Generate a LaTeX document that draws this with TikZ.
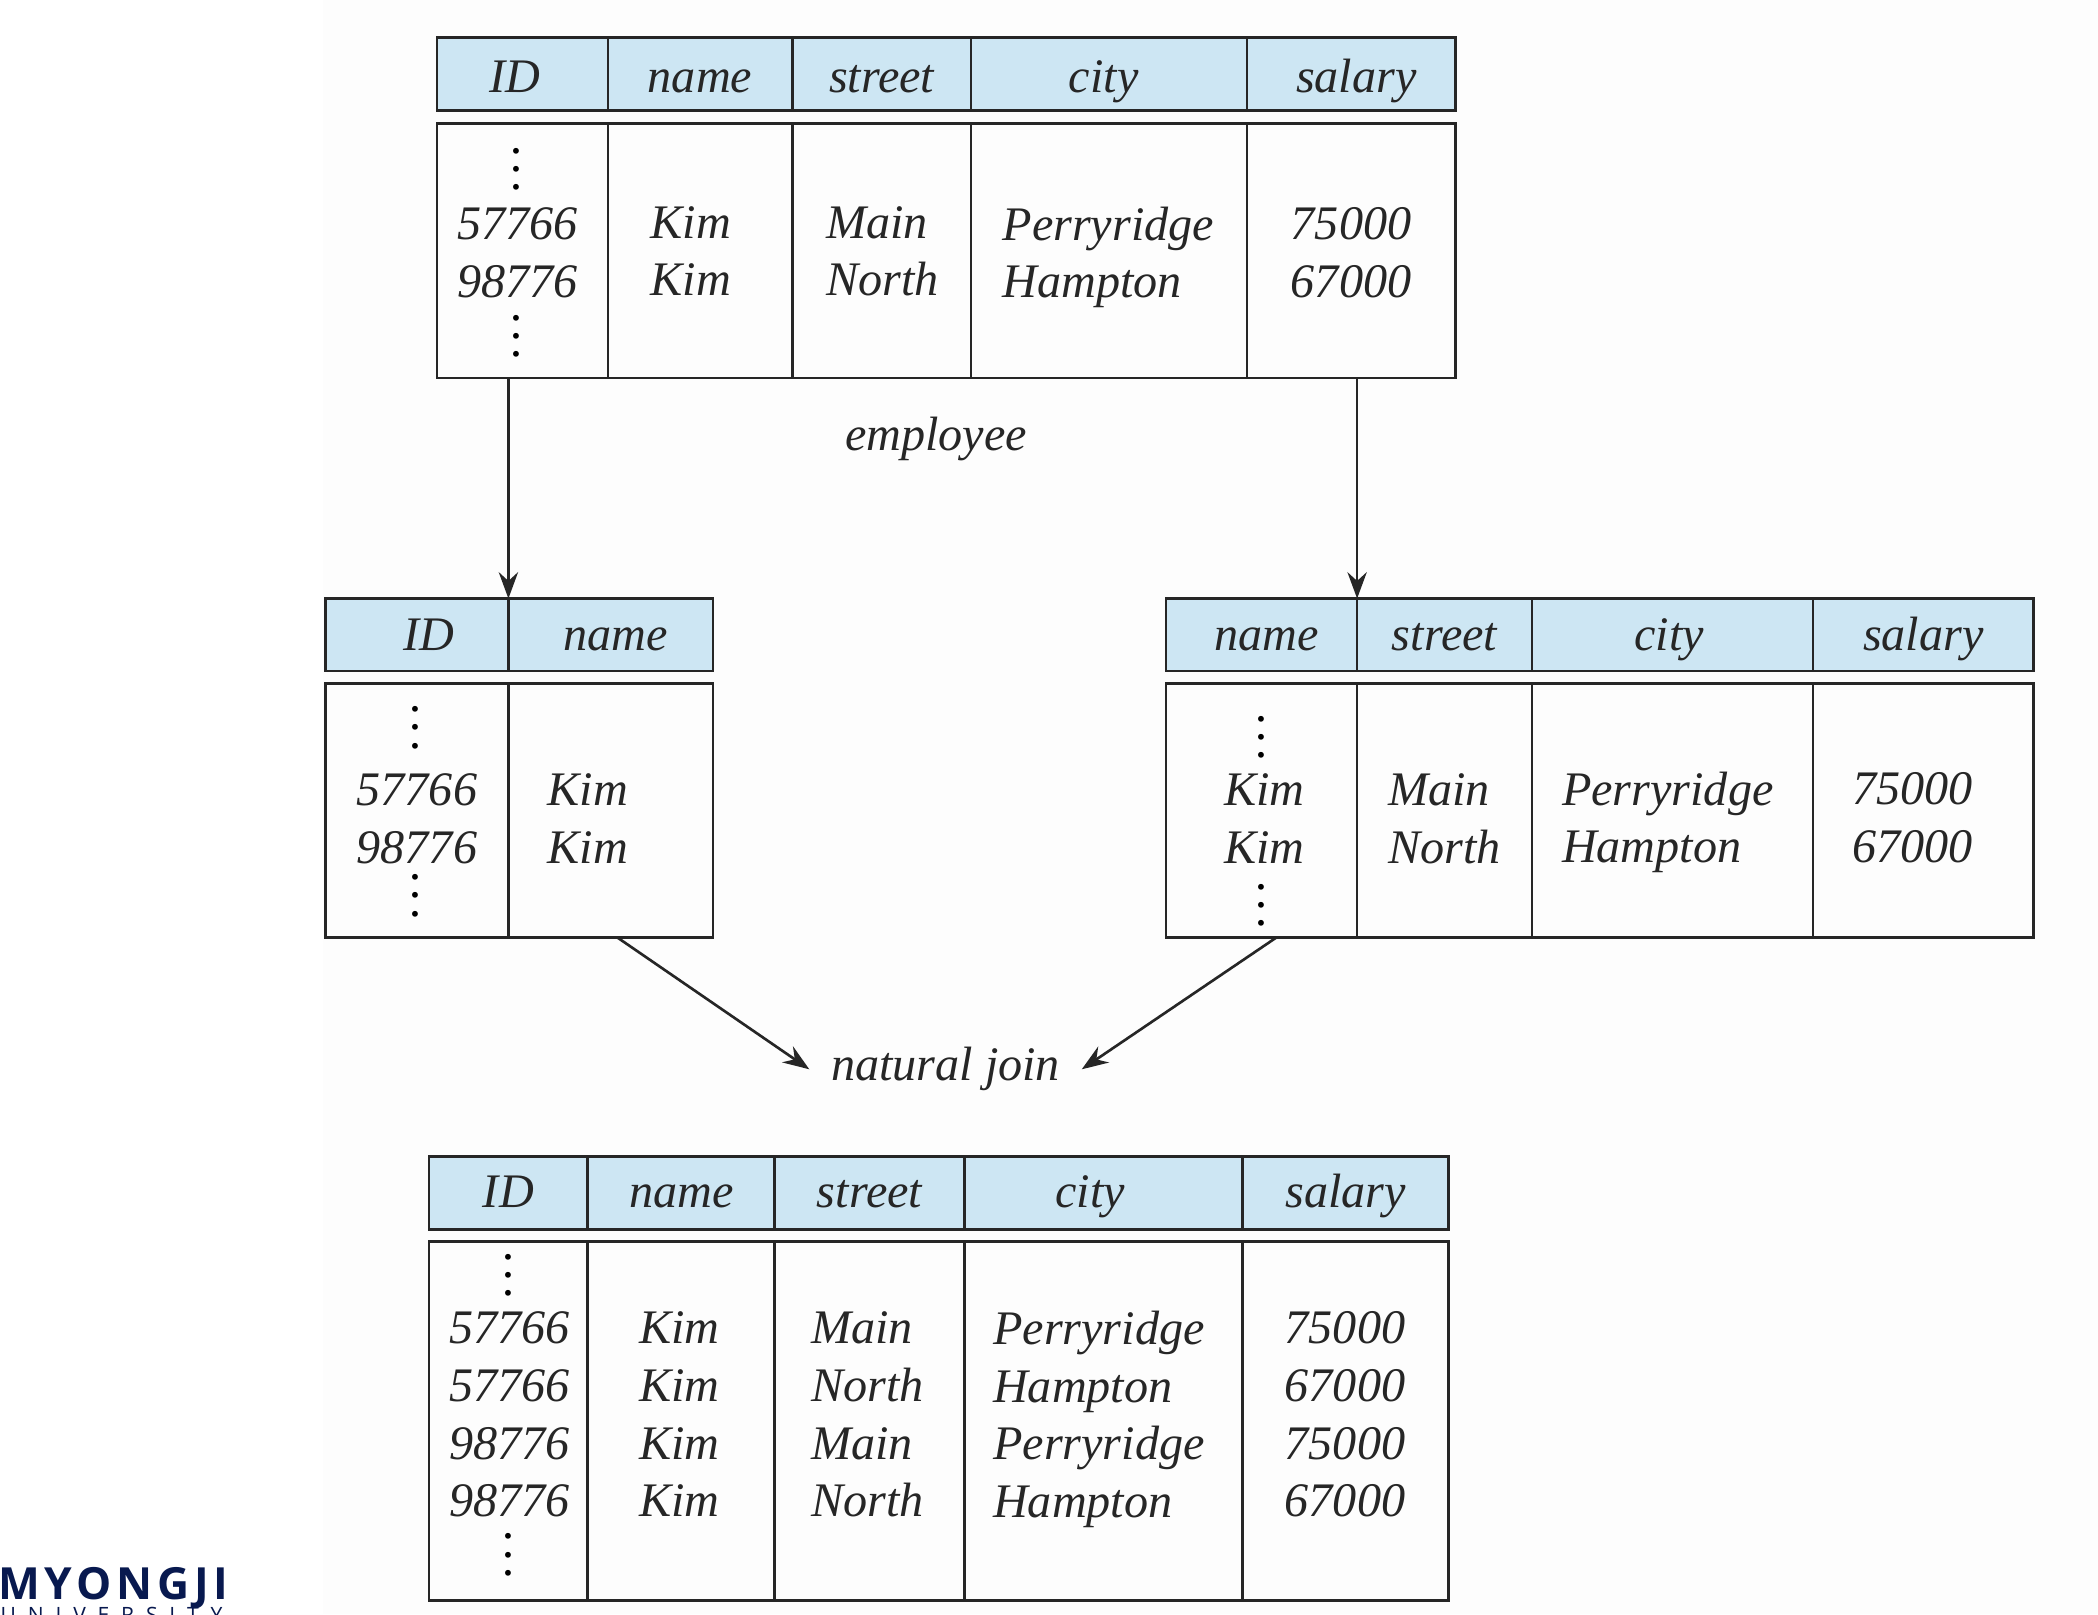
\documentclass[tikz,border=0pt]{standalone}
\usepackage{fontspec}
\setmainfont{Liberation Serif}
\newfontfamily\logofont[LetterSpace=11]{Open Sans}
\newfontfamily\logofontwide[LetterSpace=56]{Open Sans}
\usetikzlibrary{arrows.meta, positioning}
\definecolor{headblue}{HTML}{CDE6F3}
\definecolor{inkgray}{HTML}{262626}
\definecolor{logonavy}{HTML}{08194F}
\newcommand{\rowdots}{\vbox{\baselineskip=5.2pt\lineskiplimit=0pt\hbox{.}\hbox{.}\hbox{.}}}
\tikzset{
	colw/.style={minimum width=#1*0.01345cm},
	headcell/.style={draw=inkgray, fill=headblue, line width=0.75pt, outer sep=0pt, inner sep=0pt, minimum height=54*0.01345cm, text height=11.9pt, text depth=3pt, font=\fontsize{13.7}{16.4}\selectfont\itshape, text=inkgray},
	headtop/.style={headcell, text height=13.8pt},
	headlow/.style={headcell, text height=11.2pt},
	bodycell/.style={draw=inkgray, line width=0.75pt, outer sep=0pt, inner sep=0pt},
	rowtxt/.style={align=left, inner sep=0pt, text=inkgray, font=\fontsize{13.7}{16.4}\selectfont\itshape, execute at begin node=\strut, execute at end node=\strut},
	dotcol/.style={inner sep=0pt, text=black, font=\fontsize{14}{16.4}\selectfont\itshape},
	caption/.style={inner sep=0pt, text=inkgray, font=\fontsize{13.7}{16.4}\selectfont\itshape},
	flow/.style={-{Stealth[length=7.5pt, width=5.5pt, inset=2.5pt]}, draw=inkgray, line width=0.75pt}
}
\begin{document}
\begin{tikzpicture}[x=0.01345cm, y=-0.01345cm]
	\useasboundingbox (0,0) rectangle (1559.85,1200);
	\fill[white] (0,0) rectangle (1559.85,1200);
	\fill[black!0.7] (240,0) rectangle (1559.85,1200);
	
	% employee
	\node[headtop, colw=127, anchor=north west] (t1hid) at (325,28) {\hspace*{-4.6pt}ID};
	\node[headtop, colw=137, right=0pt of t1hid] (t1hname) {name};
	\node[headtop, colw=133, right=0pt of t1hname] (t1hstreet) {street};
	\node[headtop, colw=205, right=0pt of t1hstreet] (t1hcity) {\hspace*{-3pt}city};
	\node[headtop, colw=155, right=0pt of t1hcity] (t1hsalary) {\hspace*{3pt}salary};
	\node[bodycell, colw=127, minimum height=189*0.01345cm, anchor=north west] (t1bid) at (325,92) {};
	\node[bodycell, colw=137, minimum height=189*0.01345cm, right=0pt of t1bid] (t1bname) {};
	\node[bodycell, colw=133, minimum height=189*0.01345cm, right=0pt of t1bname] (t1bstreet) {};
	\node[bodycell, colw=205, minimum height=189*0.01345cm, right=0pt of t1bstreet] (t1bcity) {};
	\node[bodycell, colw=155, minimum height=189*0.01345cm, right=0pt of t1bcity] (t1bsalary) {};
	\node[dotcol] (t1dotsa) at (385,126) {\rowdots};
	\node[rowtxt] (t1ids) at (385,194) {57766\\98776};
	\node[dotcol] (t1dotsb) at (385,250) {\rowdots};
	\node[rowtxt] (t1names) at (513.5,193) {Kim\\Kim};
	\node[rowtxt] (t1streets) at (656,193) {Main\\North};
	\node[rowtxt] (t1cities) at (824,194) {Perryridge\\Hampton};
	\node[rowtxt] (t1salaries) at (1004.5,194) {75000\\67000};
	\node[caption] (empname) at (696,326) {employee};
	
	% left projection
	\node[headcell, colw=136, anchor=north west] (t2hid) at (242,445) {\hspace*{6.9pt}ID};
	\node[headcell, colw=152, right=0pt of t2hid] (t2hname) {\hspace*{3pt}name};
	\node[bodycell, colw=136, minimum height=189*0.01345cm, anchor=north west] (t2bid) at (242,508) {};
	\node[bodycell, colw=152, minimum height=189*0.01345cm, right=0pt of t2bid] (t2bname) {};
	\node[dotcol] (t2dotsa) at (310,541) {\rowdots};
	\node[rowtxt] (t2ids) at (310,615) {57766\\98776};
	\node[dotcol] (t2dotsb) at (310,666) {\rowdots};
	\node[rowtxt] (t2names) at (437,615) {Kim\\Kim};
	
	% right projection
	\node[headcell, colw=142, anchor=north west] (t3hname) at (867,445) {\hspace*{3pt}name};
	\node[headcell, colw=130, right=0pt of t3hname] (t3hstreet) {street};
	\node[headcell, colw=209, right=0pt of t3hstreet] (t3hcity) {\hspace*{-2pt}city};
	\node[headcell, colw=164, right=0pt of t3hcity] (t3hsalary) {salary};
	\node[bodycell, colw=142, minimum height=189*0.01345cm, anchor=north west] (t3bname) at (867,508) {};
	\node[bodycell, colw=130, minimum height=189*0.01345cm, right=0pt of t3bname] (t3bstreet) {};
	\node[bodycell, colw=209, minimum height=189*0.01345cm, right=0pt of t3bstreet] (t3bcity) {};
	\node[bodycell, colw=164, minimum height=189*0.01345cm, right=0pt of t3bcity] (t3bsalary) {};
	\node[dotcol] (t3dotsa) at (939,548) {\rowdots};
	\node[rowtxt] (t3names) at (940,615) {Kim\\Kim};
	\node[dotcol] (t3dotsb) at (939,673) {\rowdots};
	\node[rowtxt] (t3streets) at (1074,615) {Main\\North};
	\node[rowtxt] (t3cities) at (1240,614) {Perryridge\\Hampton};
	\node[rowtxt] (t3salaries) at (1422,614) {75000\\67000};
	
	% join result
	\node[headlow, colw=118, anchor=north west] (t4hid) at (319,860) {ID};
	\node[headlow, colw=139, right=0pt of t4hid] (t4hname) {name};
	\node[headlow, colw=141, right=0pt of t4hname] (t4hstreet) {street};
	\node[headlow, colw=207, right=0pt of t4hstreet] (t4hcity) {\hspace*{-7.6pt}city};
	\node[headlow, colw=153, right=0pt of t4hcity] (t4hsalary) {salary};
	\node[bodycell, colw=118, minimum height=267*0.01345cm, anchor=north west] (t4bid) at (319,923) {};
	\node[bodycell, colw=139, minimum height=267*0.01345cm, right=0pt of t4bid] (t4bname) {};
	\node[bodycell, colw=141, minimum height=267*0.01345cm, right=0pt of t4bname] (t4bstreet) {};
	\node[bodycell, colw=207, minimum height=267*0.01345cm, right=0pt of t4bstreet] (t4bcity) {};
	\node[bodycell, colw=153, minimum height=267*0.01345cm, right=0pt of t4bcity] (t4bsalary) {};
	\node[dotcol] (t4dotsa) at (379,948) {\rowdots};
	\node[rowtxt] (t4ids) at (379,1058) {57766\\57766\\98776\\98776};
	\node[dotcol] (t4dotsb) at (379,1156) {\rowdots};
	\node[rowtxt] (t4names) at (505,1058) {Kim\\Kim\\Kim\\Kim};
	\node[rowtxt] (t4streets) at (645,1058) {Main\\North\\Main\\North};
	\node[rowtxt] (t4cities) at (817,1058) {Perryridge\\Hampton\\Perryridge\\Hampton};
	\node[rowtxt] (t4salaries) at (1000,1058) {75000\\67000\\75000\\67000};
	
	% natural join label
	\node[caption, inner xsep=6pt] (join) at (703,795) {natural join};
	
	% Edges
	\coordinate (leftout) at (t2bname.south -| 459,0);
	\coordinate (rightout) at (t3bname.south -| 949,0);
	\draw[flow] (t1bid.south -| t2hid.north east) -- (t2hid.north east);
	\draw[flow] (t1bsalary.south -| t3hname.north east) -- (t3hname.north east);
	\draw[flow] (leftout) -- (join.west);
	\draw[flow] (rightout) -- (join.east);
	
	% logo
	\node[anchor=base west, inner sep=0pt, text=logonavy, font=\logofont\fontsize{12.6}{13}\selectfont\bfseries] (logotop) at (-2,1189) {MYONGJI};
	\node[anchor=base west, inner sep=0pt, text=logonavy, font=\logofontwide\fontsize{6}{7}\selectfont] (logobot) at (0,1206) {UNIVERSITY};
\end{tikzpicture}
\end{document}
